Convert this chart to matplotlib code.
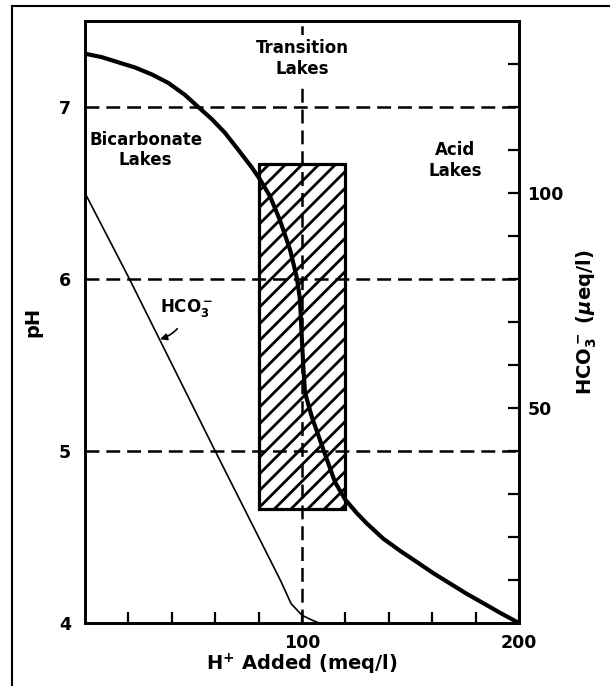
import matplotlib
matplotlib.use("Agg")
import matplotlib.pyplot as plt
from matplotlib.patches import Rectangle
from matplotlib.lines import Line2D
from matplotlib.ticker import FixedLocator, FixedFormatter

# pH titration curve (thick line)
ph_x = [0, 7.7, 15.3, 23, 30.7, 38.4, 46.1, 52.2, 58.4, 64.5, 70.7, 76.8, 80.6,
        85.3, 89.9, 94.5, 97.6, 99.1, 99.8, 100.6, 101.4, 104.5, 109.8, 115.2,
        119.8, 125.2, 129.8, 137.5, 145.2, 152.9, 160.5, 168.2, 175.9, 183.6,
        191.2, 200]
ph_y = [7.31, 7.29, 7.26, 7.23, 7.19, 7.14, 7.07, 7.00, 6.93, 6.85, 6.75, 6.65, 6.58,
        6.48, 6.34, 6.17, 6.01, 5.88, 5.69, 5.49, 5.34, 5.20, 5.01, 4.82,
        4.72, 4.64, 4.58, 4.49, 4.42, 4.355, 4.29, 4.23, 4.17, 4.115,
        4.06, 4.0]

# bicarbonate curve (thin line), right axis units
hco3_x = [0, 20, 60, 90, 95, 100, 105, 108]
hco3_y = [100, 80.5, 40, 10, 4.5, 1.8, 0.6, 0]

# transition zone (hatched box)
box_x = [80, 120]
box_ph = [4.66, 6.67]

x_ticks = [20, 40, 60, 80, 100, 120, 140, 160, 180, 200]
x_labels = ["", "", "", "", "100", "", "", "", "", "200"]
ph_ticks = [4, 5, 6, 7]
ph_labels = ["4", "5", "6", "7"]
hco3_ticks = [10, 20, 30, 40, 50, 60, 70, 80, 90, 100, 110, 120, 130]
hco3_labels = ["", "", "", "", "50", "", "", "", "", "100", "", "", ""]
grid_ph = [5, 6, 7]
grid_x = [100]

plt.rcParams['font.family'] = ['DejaVu Sans']
plt.rcParams['font.weight'] = 'bold'
plt.rcParams['hatch.linewidth'] = 2.0
plt.rcParams['lines.scale_dashes'] = False

fig = plt.figure(figsize=(6.1, 6.86), dpi=100)
ax = fig.add_axes([0.1393, 0.0918, 0.7115, 0.8776])
ax.set_xlim(0, 200)
ax.set_ylim(4, 7.5)
for s in ax.spines.values():
    s.set_linewidth(1.9)

dash = (0, (10, 5))
for p in grid_ph:
    ax.axhline(p, color='black', lw=1.8, linestyle=dash, zorder=1)
for gx in grid_x:
    ax.axvline(gx, color='black', lw=1.8, linestyle=dash, zorder=1)

ax.add_patch(Rectangle((box_x[0], box_ph[0]), box_x[1] - box_x[0], box_ph[1] - box_ph[0],
                       facecolor='none', edgecolor='black', hatch='//', lw=2.3, zorder=2))

ax.plot(ph_x, ph_y, color='black', lw=3.0, solid_capstyle='butt', solid_joinstyle='round',
        zorder=4)

ax.xaxis.set_major_locator(FixedLocator(x_ticks))
ax.xaxis.set_major_formatter(FixedFormatter(x_labels))
ax.tick_params(axis='x', direction='in', length=8, width=1.6, labelsize=12.5, pad=8)
ax.yaxis.set_major_locator(FixedLocator(ph_ticks))
ax.yaxis.set_major_formatter(FixedFormatter(ph_labels))
ax.tick_params(axis='y', length=0, labelsize=12.5, pad=10)

ax.set_xlabel("H$^{+}$ Added (meq/l)", fontsize=14, fontweight='bold', labelpad=0)
ax.set_ylabel("pH", fontsize=14, fontweight='bold', labelpad=12)

ax2 = ax.twinx()
ax2.set_ylim(0, 140)
ax2.plot(hco3_x, hco3_y, color='black', lw=1.2, zorder=3)
ax2.yaxis.set_major_locator(FixedLocator(hco3_ticks))
ax2.yaxis.set_major_formatter(FixedFormatter(hco3_labels))
ax2.tick_params(axis='y', direction='in', length=8, width=1.6, labelsize=12.5, pad=6)
ax2.set_ylabel("HCO$_3^-$ ($\\mu$eq/l)", fontsize=14, fontweight='bold', labelpad=8)
for s in ax2.spines.values():
    s.set_linewidth(1.9)

txt = dict(fontsize=12, fontweight='bold', ha='center', va='center', linespacing=1.2)
ax.text(100, 7.28, "Transition\nLakes", bbox=dict(facecolor='white', edgecolor='none', pad=3),
        zorder=5, **txt)
ax.text(28, 6.75, "Bicarbonate\nLakes", **txt)
ax.text(170.5, 6.69, "Acid\nLakes", **txt)

ax.annotate("HCO$_3^-$", xy=(34.6, 5.65), xytext=(47, 5.83), fontsize=12, fontweight='bold',
            ha='center', va='center',
            arrowprops=dict(arrowstyle='-|>', color='black', lw=1.2, mutation_scale=10,
                            shrinkA=6, shrinkB=0, connectionstyle='arc3,rad=-0.3'))

# frame around the whole figure (top and left edges visible)
fig.add_artist(Line2D([12 / 610, 1.0], [1 - 6 / 686, 1 - 6 / 686], transform=fig.transFigure,
                      color='black', lw=1.5))
fig.add_artist(Line2D([12 / 610, 12 / 610], [0, 1 - 6 / 686], transform=fig.transFigure,
                      color='black', lw=1.5))

fig.savefig("out.png", dpi=100)
